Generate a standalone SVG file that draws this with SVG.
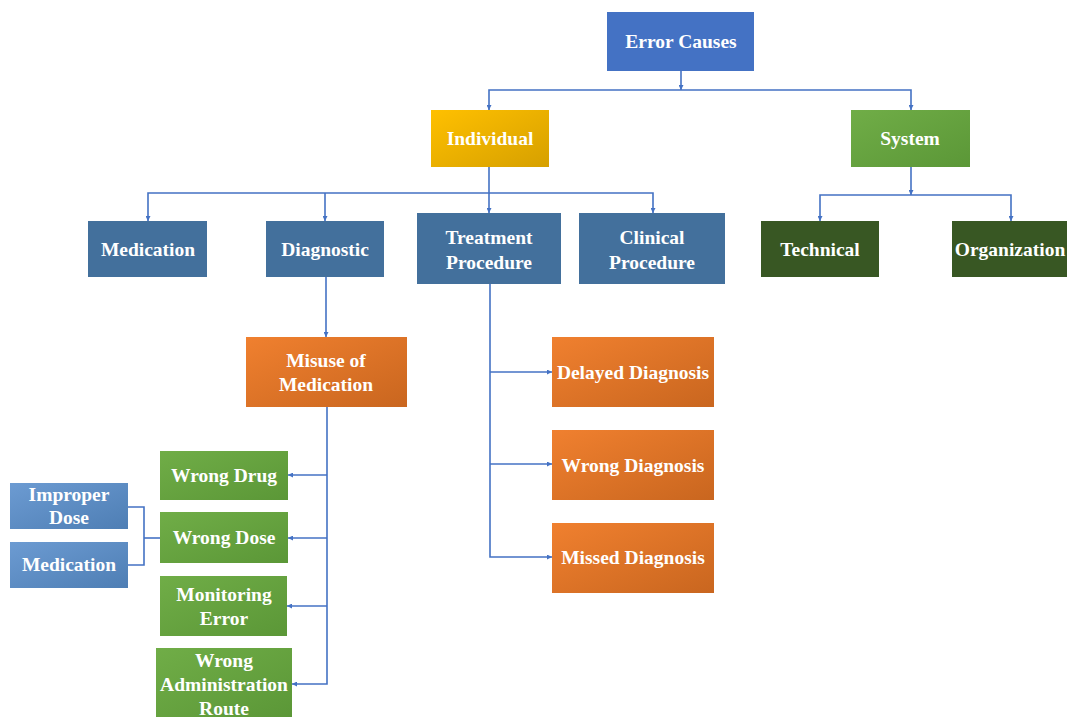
<svg xmlns="http://www.w3.org/2000/svg" width="1067" height="717" viewBox="0 0 1067 717">
<style>
.t{font-family:"Liberation Serif","Times New Roman",serif;font-weight:bold;font-size:19.5px;fill:#ffffff;text-anchor:middle}
.c{fill:none;stroke:#4472C4;stroke-width:1.6}
</style>
<defs>
<marker id="ah" viewBox="0 0 10 10" refX="10" refY="5" markerWidth="5" markerHeight="5" markerUnits="userSpaceOnUse" orient="auto"><path d="M0,0 L10,5 L0,10 z" fill="#4472C4"/></marker>
<linearGradient id="gGold" x1="0" y1="0" x2="1" y2="1"><stop offset="0" stop-color="#FFC000"/><stop offset="1" stop-color="#D6A000"/></linearGradient>
<linearGradient id="gGreen" x1="0" y1="0" x2="1" y2="1"><stop offset="0" stop-color="#70AD47"/><stop offset="1" stop-color="#5B9737"/></linearGradient>
<linearGradient id="gOrange" x1="0" y1="0" x2="1" y2="1"><stop offset="0" stop-color="#F0802F"/><stop offset="1" stop-color="#C9661F"/></linearGradient>
<linearGradient id="gLBlue" x1="0" y1="0" x2="1" y2="1"><stop offset="0" stop-color="#6C9BD2"/><stop offset="1" stop-color="#4E7EB4"/></linearGradient>
</defs>
<rect width="1067" height="717" fill="#ffffff"/>
<g id="connectors">
<path class="c" d="M681,70 V90" marker-end="url(#ah)"/>
<path class="c" d="M681,90 H489 V110" marker-end="url(#ah)"/>
<path class="c" d="M681,90 H911 V110" marker-end="url(#ah)"/>
<path class="c" d="M489,167 V193 H148 V221" marker-end="url(#ah)"/>
<path class="c" d="M325,193 V221" marker-end="url(#ah)"/>
<path class="c" d="M489,193 V213" marker-end="url(#ah)"/>
<path class="c" d="M489,193 H653 V213" marker-end="url(#ah)"/>
<path class="c" d="M911,167 V195" marker-end="url(#ah)"/>
<path class="c" d="M911,195 H820 V221" marker-end="url(#ah)"/>
<path class="c" d="M911,195 H1011 V221" marker-end="url(#ah)"/>
<path class="c" d="M326,277 V337" marker-end="url(#ah)"/>
<path class="c" d="M490,284 V557 H552" marker-end="url(#ah)"/>
<path class="c" d="M490,372 H552" marker-end="url(#ah)"/>
<path class="c" d="M490,464 H552" marker-end="url(#ah)"/>
<path class="c" d="M327,407 V684 H292" marker-end="url(#ah)"/>
<path class="c" d="M327,475 H288" marker-end="url(#ah)"/>
<path class="c" d="M327,538 H288" marker-end="url(#ah)"/>
<path class="c" d="M327,606 H287" marker-end="url(#ah)"/>
<path class="c" d="M128,507 H144 V565 H128"/>
<path class="c" d="M144,538 H160"/>
</g>
<g id="n-error-causes"><rect x="607" y="12" width="147" height="59" fill="#4472C4"/><text class="t" x="681" y="48">Error Causes</text></g>
<g id="n-individual"><rect x="431" y="110" width="118" height="57" fill="url(#gGold)"/><text class="t" x="490" y="145">Individual</text></g>
<g id="n-system"><rect x="851" y="110" width="119" height="57" fill="url(#gGreen)"/><text class="t" x="910" y="145">System</text></g>
<g id="n-medication"><rect x="88" y="221" width="119" height="56" fill="#43709C"/><text class="t" x="148" y="256">Medication</text></g>
<g id="n-diagnostic"><rect x="266" y="221" width="118" height="56" fill="#43709C"/><text class="t" x="325" y="256">Diagnostic</text></g>
<g id="n-treatment"><rect x="417" y="213" width="144" height="71" fill="#43709C"/><text class="t" x="489" y="244">Treatment</text><text class="t" x="489" y="269">Procedure</text></g>
<g id="n-clinical"><rect x="579" y="213" width="146" height="71" fill="#43709C"/><text class="t" x="652" y="244">Clinical</text><text class="t" x="652" y="269">Procedure</text></g>
<g id="n-technical"><rect x="761" y="221" width="118" height="56" fill="#385723"/><text class="t" x="820" y="256">Technical</text></g>
<g id="n-organization"><rect x="952" y="221" width="120" height="56" fill="#385723"/><text class="t" x="1010" y="256">Organization</text></g>
<g id="n-misuse"><rect x="246" y="337" width="161" height="70" fill="url(#gOrange)"/><text class="t" x="326" y="367">Misuse of</text><text class="t" x="326" y="391">Medication</text></g>
<g id="n-delayed"><rect x="552" y="337" width="162" height="70" fill="url(#gOrange)"/><text class="t" x="633" y="379">Delayed Diagnosis</text></g>
<g id="n-wrong-diag"><rect x="552" y="430" width="162" height="70" fill="url(#gOrange)"/><text class="t" x="633" y="472">Wrong Diagnosis</text></g>
<g id="n-missed"><rect x="552" y="523" width="162" height="70" fill="url(#gOrange)"/><text class="t" x="633" y="564">Missed Diagnosis</text></g>
<g id="n-wrong-drug"><rect x="160" y="451" width="128" height="49" fill="url(#gGreen)"/><text class="t" x="224" y="482">Wrong Drug</text></g>
<g id="n-wrong-dose"><rect x="160" y="512" width="128" height="51" fill="url(#gGreen)"/><text class="t" x="224" y="544">Wrong Dose</text></g>
<g id="n-monitoring"><rect x="160" y="576" width="127" height="60" fill="url(#gGreen)"/><text class="t" x="224" y="601">Monitoring</text><text class="t" x="224" y="625">Error</text></g>
<g id="n-wrong-route"><rect x="156" y="648" width="136" height="70" fill="url(#gGreen)"/><text class="t" x="224" y="667">Wrong</text><text class="t" x="224" y="691">Administration</text><text class="t" x="224" y="715">Route</text></g>
<g id="n-improper-dose"><rect x="10" y="483" width="118" height="46" fill="url(#gLBlue)"/><text class="t" x="69" y="501">Improper</text><text class="t" x="69" y="524">Dose</text></g>
<g id="n-medication2"><rect x="10" y="542" width="118" height="46" fill="url(#gLBlue)"/><text class="t" x="69" y="571">Medication</text></g>
</svg>
